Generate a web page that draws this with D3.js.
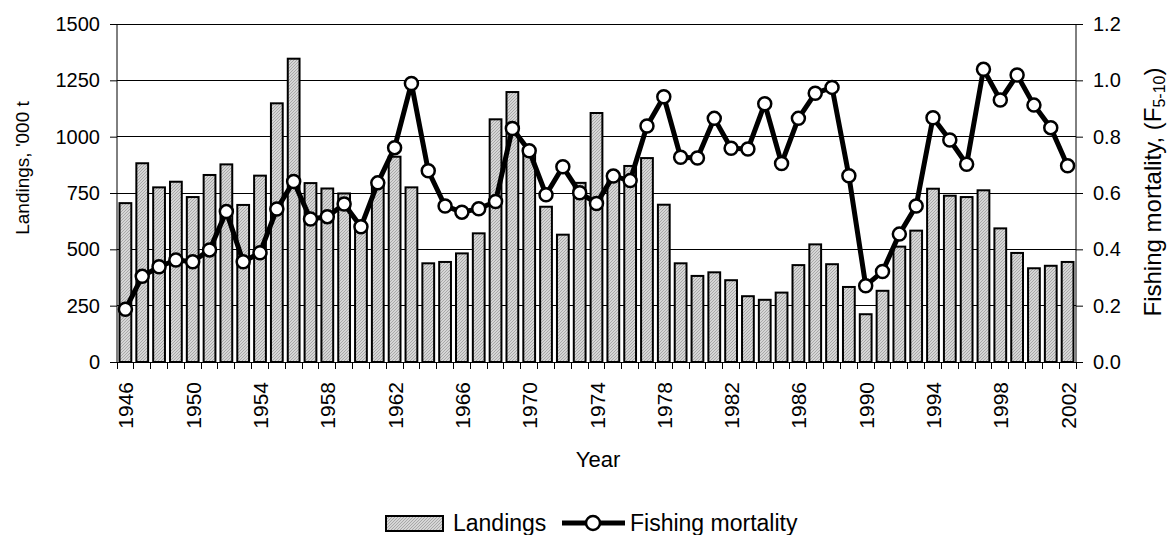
<!DOCTYPE html>
<html>
<head>
<meta charset="utf-8">
<script src="https://cdn.jsdelivr.net/npm/d3@7"></script>
<style>
  html, body { margin: 0; padding: 0; background: #fff; }
  svg { display: block; font-family: "Liberation Sans", Arial, sans-serif; }
</style>
</head>
<body>
<svg id="chart" width="1171" height="535"></svg>
<script>
const years = d3.range(1946, 2003);
const landings = [705, 882, 775, 800, 732, 830, 877, 697, 827, 1148,
  1346, 794, 770, 748, 600, 785, 911, 775, 438, 444,
  482, 571, 1077, 1198, 940, 689, 565, 795, 1105, 815,
  870, 905, 698, 438, 382, 398, 363, 292, 276, 308,
  430, 522, 434, 333, 212, 316, 512, 583, 769, 738,
  732, 762, 593, 484, 416, 427, 444];
const mortality = [0.187, 0.304, 0.338, 0.362, 0.356, 0.398, 0.534, 0.356, 0.388, 0.543,
  0.641, 0.508, 0.516, 0.561, 0.480, 0.636, 0.761, 0.989, 0.679, 0.554,
  0.532, 0.544, 0.570, 0.829, 0.750, 0.594, 0.693, 0.601, 0.563, 0.660,
  0.644, 0.838, 0.942, 0.727, 0.724, 0.865, 0.759, 0.756, 0.917, 0.705,
  0.865, 0.954, 0.975, 0.661, 0.271, 0.321, 0.454, 0.554, 0.867, 0.788,
  0.702, 1.039, 0.930, 1.019, 0.912, 0.832, 0.697];
const leftTicks = [0, 250, 500, 750, 1000, 1250, 1500];
const rightTicks = [0, 0.2, 0.4, 0.6, 0.8, 1.0, 1.2];
const yearLabels = years.filter(y => (y - 1946) % 4 === 0);

const svg = d3.select("#chart");
const L = 117, R = 1076, T = 24, B = 362;

// pattern for bars
const defs = svg.append("defs");
const pat = defs.append("pattern").attr("id", "hatch").attr("patternUnits", "userSpaceOnUse")
  .attr("width", 3).attr("height", 3);
pat.append("rect").attr("width", 3).attr("height", 3).attr("fill", "#d6d6d6");
pat.append("path").attr("d", "M0,3 L3,0").attr("stroke", "#9c9c9c").attr("stroke-width", 0.8);

const x = d3.scaleBand().domain(years).range([L, R]).paddingInner(0.3).paddingOuter(0.15);
const yL = d3.scaleLinear().domain([0, 1500]).range([B, T]);
const yR = d3.scaleLinear().domain([0, 1.2]).range([B, T]);

// gridlines
svg.append("g").selectAll("line").data(leftTicks.slice(1)).join("line")
  .attr("x1", L).attr("x2", R).attr("y1", d => yL(d)).attr("y2", d => yL(d))
  .attr("stroke", "#000").attr("stroke-width", 1).attr("shape-rendering", "crispEdges");

// bars
svg.append("g").selectAll("rect").data(years).join("rect")
  .attr("x", d => x(d)).attr("width", x.bandwidth())
  .attr("y", (d, i) => yL(landings[i])).attr("height", (d, i) => B - yL(landings[i]))
  .attr("fill", "url(#hatch)").attr("stroke", "#000").attr("stroke-width", 2);

// left axis
const axL = svg.append("g").attr("transform", `translate(${L},0)`)
  .call(d3.axisLeft(yL).tickValues(leftTicks).tickSize(7).tickPadding(10).tickFormat(d3.format("d")));
axL.selectAll("text").attr("font-size", 20).attr("fill", "#000").attr("font-family", "Liberation Sans, Arial, sans-serif");
axL.selectAll("line,path").attr("stroke", "#000");
axL.select(".domain").attr("d", `M0,${T}V${B}`);

// right axis
const axR = svg.append("g").attr("transform", `translate(${R},0)`)
  .call(d3.axisRight(yR).tickValues(rightTicks).tickSize(7).tickPadding(10).tickFormat(d3.format(".1f")));
axR.selectAll("text").attr("font-size", 20).attr("fill", "#000").attr("font-family", "Liberation Sans, Arial, sans-serif");
axR.selectAll("line,path").attr("stroke", "#000");
axR.select(".domain").attr("d", `M0,${T}V${B}`);

// top border
svg.append("line").attr("x1", L).attr("x2", R).attr("y1", T).attr("y2", T)
  .attr("stroke", "#000").attr("stroke-width", 1).attr("shape-rendering", "crispEdges");

// x axis
const step = x.step();
const xg = svg.append("g");
xg.append("line").attr("x1", L - 7).attr("x2", R + 7).attr("y1", B).attr("y2", B).attr("stroke", "#000")
  .attr("stroke-width", 1).attr("shape-rendering", "crispEdges");
xg.selectAll("line.t").data(d3.range(years.length + 1)).join("line").attr("class", "t")
  .attr("x1", i => L + i * step).attr("x2", i => L + i * step).attr("y1", B).attr("y2", B + 7)
  .attr("stroke", "#000").attr("shape-rendering", "crispEdges");
xg.selectAll("text").data(yearLabels).join("text")
  .attr("transform", d => `translate(${x(d) + x.bandwidth() / 2 + 8},${B + 20}) rotate(-90)`)
  .attr("text-anchor", "end").attr("font-size", 21).text(d => d);

// line
const line = d3.line().x((d, i) => x(years[i]) + x.bandwidth() / 2).y(d => yR(d));
svg.append("path").datum(mortality).attr("d", line).attr("fill", "none")
  .attr("stroke", "#000").attr("stroke-width", 5).attr("stroke-linejoin", "round");
svg.append("g").selectAll("circle").data(mortality).join("circle")
  .attr("cx", (d, i) => x(years[i]) + x.bandwidth() / 2).attr("cy", d => yR(d)).attr("r", 6.5)
  .attr("fill", "#fff").attr("stroke", "#000").attr("stroke-width", 2.5);

// axis titles
svg.append("text").attr("transform", "translate(29,168) rotate(-90)").attr("text-anchor", "middle")
  .attr("font-size", 19).text("Landings, '000 t");
const rt = svg.append("text").attr("transform", "translate(1161,192) rotate(-90)").attr("text-anchor", "middle")
  .attr("font-size", 24);
rt.append("tspan").text("Fishing mortality, (F");
rt.append("tspan").attr("font-size", 16).attr("dy", 4).text("5-10");
rt.append("tspan").attr("dy", -4).text(")");
svg.append("text").attr("x", 598).attr("y", 467).attr("text-anchor", "middle").attr("font-size", 22).text("Year");

// legend
const lg = svg.append("g");
lg.append("rect").attr("x", 386).attr("y", 516).attr("width", 57).attr("height", 15)
  .attr("fill", "url(#hatch)").attr("stroke", "#000").attr("stroke-width", 2);
lg.append("text").attr("x", 453).attr("y", 531).attr("font-size", 23).text("Landings");
lg.append("line").attr("x1", 562).attr("x2", 625).attr("y1", 523).attr("y2", 523)
  .attr("stroke", "#000").attr("stroke-width", 5);
lg.append("circle").attr("cx", 593).attr("cy", 523).attr("r", 7)
  .attr("fill", "#fff").attr("stroke", "#000").attr("stroke-width", 2.5);
lg.append("text").attr("x", 630).attr("y", 531).attr("font-size", 23).text("Fishing mortality");
</script>
</body>
</html>
